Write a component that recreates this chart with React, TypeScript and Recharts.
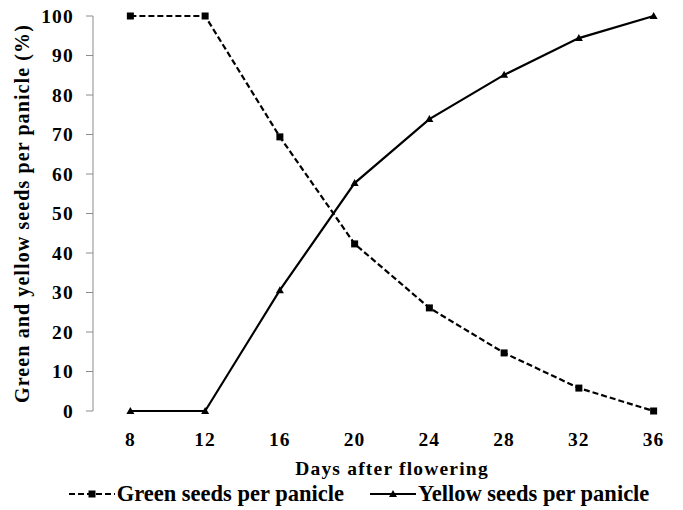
import { Legend, Line, LineChart, XAxis, YAxis } from 'recharts';

const days = [8, 12, 16, 20, 24, 28, 32, 36];
const greenSeeds = [100, 100, 69.4, 42.3, 26.1, 14.7, 5.8, 0];
const yellowSeeds = [0, 0, 30.6, 57.7, 73.9, 85.1, 94.4, 100];
const dayDomain = [6, 38];
const dayBoundaries = [6, 10, 14, 18, 22, 26, 30, 34, 38];
const percentTicks = [0, 10, 20, 30, 40, 50, 60, 70, 80, 90, 100];

const data = days.map((d, i) => ({ day: d, green: greenSeeds[i], yellow: yellowSeeds[i] }));

const FONT = "'Liberation Serif', 'Times New Roman', serif";
const AXIS_GREY = '#8c8c8c';
const tickStyle = { fontFamily: FONT, fontSize: 19.5, fontWeight: 700, fill: '#000', letterSpacing: 1.2 };

function SquareDot(props: any) {
  const { cx, cy, key } = props;
  if (cx == null || cy == null) return null;
  return <rect key={key} x={cx - 3.5} y={cy - 3.5} width={7} height={7} fill="#000" />;
}

function TriangleDot(props: any) {
  const { cx, cy, key } = props;
  if (cx == null || cy == null) return null;
  return <polygon key={key} points={`${cx - 4},${cy + 3} ${cx + 4},${cy + 3} ${cx},${cy - 4}`} fill="#000" />;
}

function LegendSymbol({ dashed }: { dashed: boolean }) {
  return (
    <svg width={46} height={12} style={{ display: 'block' }}>
      <line x1={0} y1={6} x2={46} y2={6} stroke="#000" strokeWidth={2.2} strokeDasharray={dashed ? '6 3' : undefined} />
      {dashed ? (
        <rect x={19.5} y={2.5} width={7} height={7} fill="#000" />
      ) : (
        <polygon points="19,9 27,9 23,2" fill="#000" />
      )}
    </svg>
  );
}

function LegendContent() {
  const items = [
    { label: 'Green seeds per panicle', dashed: true },
    { label: 'Yellow seeds per panicle', dashed: false }
  ];
  return (
    <div style={{ display: 'flex', justifyContent: 'center', gap: 26, fontFamily: FONT, fontWeight: 700, fontSize: 22.5 }}>
      {items.map((it) => (
        <div key={it.label} style={{ display: 'flex', alignItems: 'center', gap: 2 }}>
          <LegendSymbol dashed={it.dashed} />
          <span>{it.label}</span>
        </div>
      ))}
    </div>
  );
}

export default function App() {
  return (
    <div style={{ position: 'absolute', left: 0, top: 0, width: 683, height: 510, overflow: 'hidden', background: '#fff' }}>
      <LineChart width={700} height={510} data={data} margin={{ top: 16, right: 9, bottom: 0, left: 0 }}>
        <XAxis
          xAxisId="bounds"
          type="number"
          dataKey="day"
          domain={dayDomain}
          ticks={dayBoundaries}
          tick={false}
          tickSize={6}
          height={0}
          axisLine={{ stroke: AXIS_GREY }}
          tickLine={{ stroke: AXIS_GREY }}
        />
        <XAxis
          xAxisId="days"
          type="number"
          dataKey="day"
          domain={dayDomain}
          ticks={days}
          axisLine={false}
          tickLine={false}
          tickSize={0}
          tickMargin={21}
          height={70}
          tick={tickStyle}
          label={(p: any) => {
            const vb = p.viewBox;
            return (
              <text
                x={vb.x + vb.width / 2}
                y={vb.y + 64}
                textAnchor="middle"
                fontFamily={FONT}
                fontSize={19.5}
                fontWeight={700}
                letterSpacing={1.2}
              >
                Days after flowering
              </text>
            );
          }}
        />
        <YAxis
          type="number"
          domain={[0, 100]}
          ticks={percentTicks}
          width={93}
          tickSize={7}
          tickMargin={12}
          tick={tickStyle}
          axisLine={{ stroke: AXIS_GREY }}
          tickLine={{ stroke: AXIS_GREY }}
          label={(p: any) => {
            const vb = p.viewBox;
            const cx = vb.x + 28.5;
            const cy = vb.y + vb.height / 2;
            return (
              <text
                x={cx}
                y={cy}
                textAnchor="middle"
                transform={`rotate(-90, ${cx}, ${cy})`}
                fontFamily={FONT}
                fontSize={20}
                fontWeight={700}
                letterSpacing={1.1}
              >
                Green and yellow seeds per panicle (%)
              </text>
            );
          }}
        />
        <Legend
          verticalAlign="bottom"
          height={29}
          content={<LegendContent />}
          wrapperStyle={{ left: 0, width: 683, paddingLeft: 35, boxSizing: 'border-box' }}
        />
        <Line
          xAxisId="days"
          dataKey="green"
          stroke="#000"
          strokeWidth={2.2}
          strokeDasharray="6 3"
          dot={SquareDot}
          activeDot={false}
          isAnimationActive={false}
        />
        <Line
          xAxisId="days"
          dataKey="yellow"
          stroke="#000"
          strokeWidth={2.2}
          dot={TriangleDot}
          activeDot={false}
          isAnimationActive={false}
        />
      </LineChart>
    </div>
  );
}
